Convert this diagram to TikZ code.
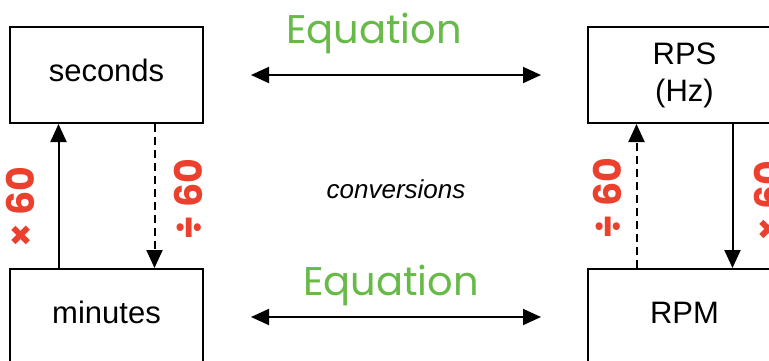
\documentclass[tikz,border=0pt]{standalone}
\usepackage{fontspec}
\setmainfont{Liberation Sans}
\newfontfamily\handfont{Poppins}
\usetikzlibrary{arrows.meta, positioning}
\definecolor{penred}{RGB}{236, 64, 46}
\definecolor{pengreen}{RGB}{104, 186, 72}

\begin{document}
\begin{tikzpicture}[
    x=1pt, y=-1pt,
    unit/.style={rectangle, draw, line width=2pt, minimum width=193pt, minimum height=96pt, inner sep=0pt, align=center, font=\fontsize{31}{37}\selectfont},
    oneline/.style={text depth=9pt},
    arrow/.style={-{Triangle[length=18pt,width=16pt]}, line width=2pt},
    twoway/.style={{Triangle[length=18pt,width=16pt]}-{Triangle[length=18pt,width=16pt]}, line width=2pt},
    dashes/.style={dash pattern=on 8pt off 5pt},
    factor/.style={font=\handfont\bfseries\fontsize{38}{40}\selectfont, text=penred, rotate=90, inner sep=0pt},
    eqn/.style={font=\handfont\fontsize{40}{44}\selectfont, text=pengreen, inner sep=0pt, anchor=base},
    note/.style={font=\itshape\fontsize{26}{30}\selectfont}
]
\useasboundingbox (0,0) rectangle (769,360);
\clip (0,0) rectangle (769,360);

\node[unit, oneline] (seconds) at (106.5,75) {seconds};
\node[unit, right=383pt of seconds] (rps) {RPS\\(Hz)};
\node[unit, oneline, below=144pt of seconds] (minutes) {minutes};
\node[unit, oneline, below=144pt of rps] (rpm) {RPM};

% unit conversions
\draw[arrow] ([xshift=-48pt]minutes.north) -- ([xshift=-48pt]seconds.south);
\draw[arrow, dashes] ([xshift=48pt]seconds.south) -- ([xshift=48pt]minutes.north);
\draw[arrow, dashes] ([xshift=-48pt]rpm.north) -- ([xshift=-48pt]rps.south);
\draw[arrow] ([xshift=48pt]rps.south) -- ([xshift=48pt]rpm.north);

\node[factor] (mulleft) at (20,207) {× 60};
\node[factor] (divleft) at (188,199) {÷ 60};
\node[factor] (divright) at (607,198) {÷ 60};
\node[factor] (mulright) at (768,201) {× 60};

% equations
\draw[twoway, shorten <=47pt, shorten >=46pt] (seconds) -- (rps);
\draw[twoway, shorten <=47pt, shorten >=46pt] (minutes) -- (rpm);
\node[eqn] (eqtop) at (374,43) {Equation};
\node[eqn] (eqbottom) at (391,295) {Equation};

\node[note] (conv) at (396,189) {conversions};

\end{tikzpicture}
\end{document}
